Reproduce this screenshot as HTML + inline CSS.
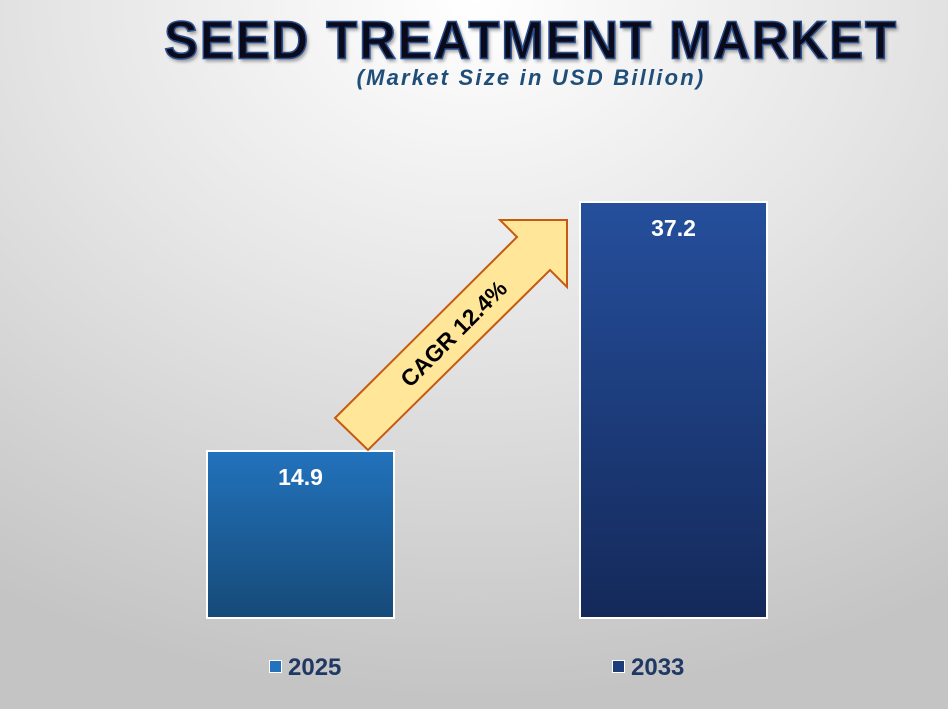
<!DOCTYPE html>
<html><head><meta charset="utf-8"><style>
body{margin:0;width:948px;height:709px;overflow:hidden;font-family:"Liberation Sans",sans-serif;
background:radial-gradient(ellipse 900px 700px at 50% 0%,#ffffff 0%,#e6e6e6 45%,#c4c4c4 100%);position:relative}
.t{position:absolute;left:0;width:1062px;text-align:center;top:9px;font-size:51px;font-weight:bold;color:#0a0a1a;letter-spacing:1.8px;
-webkit-text-stroke:1.5px #2a4f8f;text-shadow:2px 3px 3px rgba(0,0,0,0.35);transform:scaleY(1.05);transform-origin:50% 0}
.s{position:absolute;left:0;width:1062px;text-align:center;top:65px;font-size:22px;font-weight:bold;font-style:italic;color:#1f4e79;letter-spacing:2.2px}
.bar{position:absolute;border:2px solid #fff;box-sizing:border-box;color:#fff;font-weight:bold;font-size:23px;text-align:center;padding-top:12px}
.lg{position:absolute;top:654px;font-size:24px;font-weight:bold;color:#1f3864}
.lg i{display:inline-block;width:11px;height:11px;border:1px solid #fff;margin-right:6px;vertical-align:2px}
</style></head><body>
<div class="t">SEED TREATMENT MARKET</div>
<div class="s">(Market Size in USD Billion)</div>
<div class="bar" style="left:206px;top:450px;width:189px;height:169px;background:linear-gradient(#2272bc,#164a78)">14.9</div>
<div class="bar" style="left:579px;top:201px;width:189px;height:418px;background:linear-gradient(#254f9c,#14295a)">37.2</div>
<svg style="position:absolute;left:0;top:0" width="948" height="709">
<polygon points="335,418 368,450 550,270 567,287 567,220 500,220 517,237" fill="#ffe699" stroke="#c55a11" stroke-width="2"/>
<text x="0" y="0" transform="translate(455,335) rotate(-45)" text-anchor="middle" dominant-baseline="middle" font-family="Liberation Sans" font-weight="bold" font-size="23" fill="#000">CAGR 12.4%</text>
</svg>
<div class="lg" style="left:269px"><i style="background:#2272bc"></i>2025</div>
<div class="lg" style="left:612px"><i style="background:#1f3c7a"></i>2033</div>
</body></html>
